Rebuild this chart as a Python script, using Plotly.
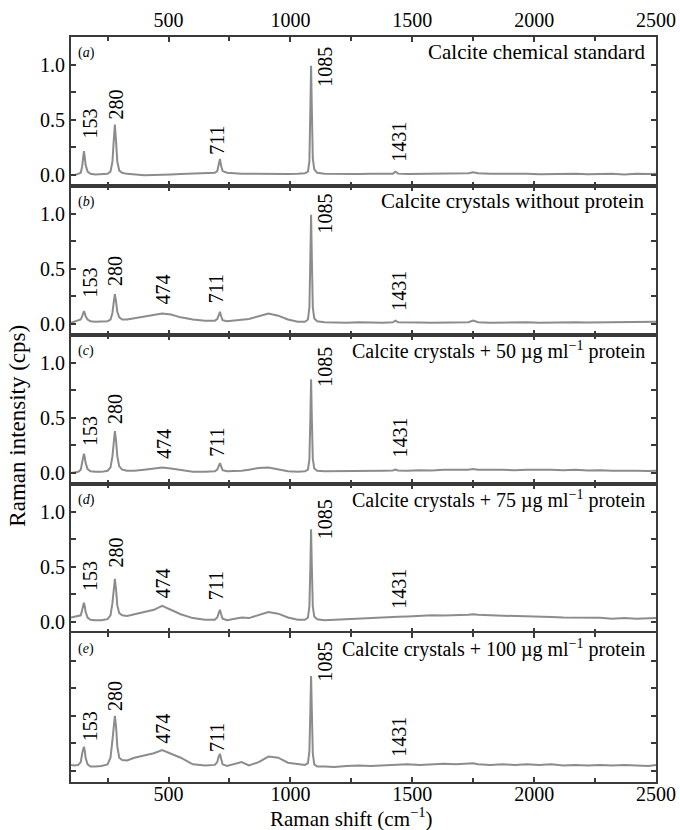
import plotly.graph_objects as go

# ---------------- data ----------------
raman_shift = [100, 115, 130, 140, 146, 150, 153, 156, 160, 168, 180, 200, 225, 250, 262, 270, 275, 280, 285, 290,
               298, 310, 330, 360, 400, 440, 474, 510, 550, 600, 650, 690, 700, 706, 711, 716, 722, 740, 770, 800,
               830, 870, 910, 950, 990, 1030, 1060, 1072, 1078, 1082, 1085, 1088, 1092, 1098, 1110, 1140, 1180, 1230,
               1280, 1330, 1380, 1420, 1431, 1442, 1480, 1530, 1580, 1630, 1680, 1730, 1750, 1770, 1820, 1870, 1920,
               1970, 2020, 2070, 2120, 2170, 2220, 2270, 2320, 2370, 2420, 2470, 2500]

int_a = [0.00, 0.00, 0.01, 0.02, 0.08, 0.17, 0.215, 0.17, 0.09, 0.03, 0.01, 0.005, 0.005, 0.01, 0.03, 0.12, 0.30, 0.457,
         0.30, 0.12, 0.04, 0.02, 0.01, 0.005, -0.002, 0.0, 0.0, 0.005, 0.008, 0.012, 0.018, 0.02, 0.035, 0.09, 0.145,
         0.08, 0.035, 0.02, 0.015, 0.01, 0.012, 0.01, 0.008, 0.005, 0.008, 0.01, 0.015, 0.03, 0.12, 0.60, 0.99, 0.60,
         0.15, 0.05, 0.02, 0.01, 0.008, 0.006, 0.008, 0.01, 0.008, 0.01, 0.03, 0.012, 0.008, 0.01, 0.006, 0.01, 0.012,
         0.015, 0.025, 0.015, 0.01, 0.012, 0.008, 0.01, 0.006, 0.01, 0.008, 0.012, 0.006, 0.008, 0.01, 0.005, 0.01,
         0.008, 0.012]

int_b = [0.01, 0.02, 0.03, 0.04, 0.07, 0.10, 0.116, 0.10, 0.07, 0.04, 0.025, 0.02, 0.02, 0.025, 0.04, 0.10, 0.19, 0.27,
         0.20, 0.11, 0.06, 0.04, 0.04, 0.05, 0.065, 0.08, 0.095, 0.085, 0.06, 0.04, 0.03, 0.03, 0.045, 0.08, 0.11,
         0.07, 0.035, 0.025, 0.03, 0.035, 0.045, 0.07, 0.095, 0.075, 0.04, 0.02, 0.02, 0.04, 0.15, 0.60, 0.99, 0.60,
         0.15, 0.05, 0.025, 0.015, 0.012, 0.012, 0.015, 0.012, 0.01, 0.015, 0.03, 0.015, 0.012, 0.014, 0.012, 0.014,
         0.015, 0.015, 0.03, 0.015, 0.012, 0.014, 0.012, 0.015, 0.012, 0.015, 0.012, 0.015, 0.013, 0.015, 0.018,
         0.015, 0.02, 0.018, 0.02]

int_c = [0.0, 0.005, 0.01, 0.03, 0.09, 0.15, 0.175, 0.15, 0.09, 0.035, 0.015, 0.01, 0.01, 0.02, 0.05, 0.15, 0.28, 0.38,
         0.29, 0.15, 0.06, 0.03, 0.02, 0.02, 0.03, 0.04, 0.05, 0.04, 0.025, 0.01, 0.01, 0.015, 0.03, 0.065, 0.09,
         0.06, 0.025, 0.015, 0.015, 0.02, 0.03, 0.045, 0.05, 0.035, 0.015, 0.01, 0.015, 0.03, 0.12, 0.50, 0.85, 0.50,
         0.13, 0.04, 0.02, 0.015, 0.015, 0.02, 0.018, 0.02, 0.02, 0.022, 0.03, 0.022, 0.02, 0.025, 0.022, 0.03,
         0.028, 0.03, 0.035, 0.03, 0.028, 0.03, 0.025, 0.03, 0.028, 0.03, 0.025, 0.028, 0.022, 0.025, 0.02, 0.022,
         0.02, 0.018, 0.02]

int_d = [0.04, 0.045, 0.05, 0.06, 0.11, 0.16, 0.175, 0.15, 0.09, 0.04, 0.02, 0.015, 0.015, 0.025, 0.06, 0.17, 0.30,
         0.39, 0.29, 0.15, 0.08, 0.06, 0.055, 0.07, 0.085, 0.11, 0.145, 0.11, 0.07, 0.035, 0.02, 0.02, 0.04, 0.08,
         0.11, 0.07, 0.03, 0.015, 0.025, 0.04, 0.035, 0.06, 0.09, 0.075, 0.04, 0.02, 0.02, 0.04, 0.14, 0.50, 0.84,
         0.50, 0.14, 0.05, 0.025, 0.015, 0.02, 0.025, 0.03, 0.035, 0.04, 0.045, 0.05, 0.048, 0.05, 0.055, 0.06,
         0.058, 0.06, 0.065, 0.07, 0.065, 0.06, 0.058, 0.055, 0.05, 0.048, 0.045, 0.04, 0.04, 0.035, 0.038, 0.03,
         0.035, 0.03, 0.032, 0.035]

int_e = [0.055, 0.05, 0.055, 0.08, 0.16, 0.21, 0.22, 0.19, 0.12, 0.06, 0.04, 0.04, 0.045, 0.06, 0.12, 0.28, 0.42, 0.50,
         0.40, 0.22, 0.12, 0.10, 0.095, 0.12, 0.14, 0.16, 0.19, 0.16, 0.12, 0.06, 0.05, 0.055, 0.08, 0.13, 0.155,
         0.11, 0.06, 0.045, 0.06, 0.08, 0.05, 0.08, 0.13, 0.12, 0.075, 0.06, 0.055, 0.07, 0.18, 0.55, 0.86, 0.55,
         0.16, 0.06, 0.04, 0.04, 0.035, 0.045, 0.05, 0.045, 0.05, 0.055, 0.058, 0.055, 0.06, 0.055, 0.06, 0.065,
         0.06, 0.065, 0.07, 0.06, 0.055, 0.06, 0.055, 0.06, 0.055, 0.06, 0.05, 0.055, 0.05, 0.055, 0.05, 0.055,
         0.05, 0.045, 0.055]

panel_letters = ["a", "b", "c", "d", "e"]
panel_titles = [
    "Calcite chemical standard",
    "Calcite crystals without protein",
    "Calcite crystals + 50 µg ml<sup>−1</sup> protein",
    "Calcite crystals + 75 µg ml<sup>−1</sup> protein",
    "Calcite crystals + 100 µg ml<sup>−1</sup> protein",
]
spectra = [int_a, int_b, int_c, int_d, int_e]

peak_labels = ["153", "280", "474", "711", "1085", "1431"]
peak_label_x = [178, 283, 479, 698, 1142, 1446]
peak_label_y = [
    [0.33, 0.50, None, 0.185, 0.80, 0.12],
    [0.24, 0.34, 0.18, 0.19, 0.82, 0.12],
    [0.245, 0.44, 0.13, 0.15, 0.78, 0.14],
    [0.28, 0.49, 0.215, 0.20, 0.75, 0.12],
    [0.27, 0.54, 0.25, 0.175, 0.81, 0.13],
]

x_range = [100, 2500]
y_range = [-0.1, 1.25]

# ---------------- figure ----------------
FONT = "Times New Roman"
AXC = "#3a3a3a"
fig = go.Figure()
n = len(spectra)
annotations = []
layout = {}

for i in range(n):
    k = i + 1
    xs = "" if k == 1 else str(k)
    fig.add_trace(go.Scatter(x=raman_shift, y=spectra[i], mode="lines",
                             line=dict(color="#8c8c8c", width=2),
                             xaxis="x" + xs, yaxis="y" + xs, showlegend=False,
                             hoverinfo="skip"))
    top = 1 - i * 0.2
    bottom = top - 0.2
    xa = dict(domain=[0, 1], range=x_range, anchor="y" + xs, automargin=False,
              showline=True, linecolor=AXC, linewidth=2, mirror="ticks",
              ticks="inside", ticklen=5, tickwidth=1.5, tickcolor=AXC,
              dtick=500, tick0=0, showgrid=False, zeroline=False,
              minor=dict(dtick=250, ticks="inside", ticklen=4, tickwidth=1.5, tickcolor=AXC),
              tickfont=dict(family=FONT, size=20, color="black"))
    if k == 1:
        xa.update(side="top", showticklabels=True)
    elif k == n:
        xa.update(side="bottom", showticklabels=True, ticklabelstandoff=-7)
    else:
        xa.update(showticklabels=False)
    if k > 1:
        xa["matches"] = "x"
    ya = dict(domain=[max(bottom, 0), min(top, 1)], range=y_range, anchor="x" + xs, automargin=False,
              showline=True, linecolor=AXC, linewidth=2, mirror="ticks",
              ticks="inside", ticklen=5, tickwidth=1.5, tickcolor=AXC,
              tickvals=[0, 0.5, 1.0], ticktext=["0.0", "0.5", "1.0"],
              showgrid=False, zeroline=False,
              minor=dict(tickvals=[0.25, 0.75], ticks="inside", ticklen=5, tickwidth=1.5, tickcolor=AXC),
              tickfont=dict(family=FONT, size=20, color="black"),
              showticklabels=(k != n))
    layout["xaxis" + xs] = xa
    layout["yaxis" + xs] = ya

    # panel letter
    annotations.append(dict(text="(<i>%s</i>)" % panel_letters[i], xref="x%s domain" % xs, yref="y%s domain" % xs,
                            x=0.008, y=0.96, xanchor="left", yanchor="top", showarrow=False,
                            font=dict(family=FONT, size=14, color="black")))
    # panel title
    annotations.append(dict(text=panel_titles[i], xref="x%s domain" % xs, yref="y%s domain" % xs,
                            x=0.985, y=0.99, xanchor="right", yanchor="top", showarrow=False,
                            font=dict(family=FONT, size=21 if i < 2 else 20, color="black")))
    # peak labels
    for lab, lx, ly in zip(peak_labels, peak_label_x, peak_label_y[i]):
        if ly is None:
            continue
        annotations.append(dict(text=lab, x=lx, y=ly, xref="x" + xs, yref="y" + xs, yshift=-2,
                                textangle=-90, xanchor="center", yanchor="bottom", showarrow=False,
                                font=dict(family=FONT, size=20, color="black")))

# axis titles
annotations.append(dict(text="Raman shift (cm<sup>−1</sup>)", xref="paper", yref="paper",
                        x=0.48, y=-0.048, xanchor="center", yanchor="middle", showarrow=False,
                        font=dict(family=FONT, size=21, color="black")))
annotations.append(dict(text="Raman intensity (cps)", xref="paper", yref="paper",
                        x=-0.091, y=0.478, xanchor="center", yanchor="middle", textangle=-90,
                        showarrow=False, font=dict(family=FONT, size=23, color="black")))

fig.update_layout(**layout)
fig.update_layout(width=680, height=830, margin=dict(l=71, r=24, t=37, b=48, autoexpand=False),
                  paper_bgcolor="white", plot_bgcolor="white",
                  font=dict(family=FONT),
                  annotations=annotations, showlegend=False)

fig.write_html("out.html", config={"displayModeBar": False},
               post_script="document.body.style.margin='0px';document.body.style.padding='0px';")
